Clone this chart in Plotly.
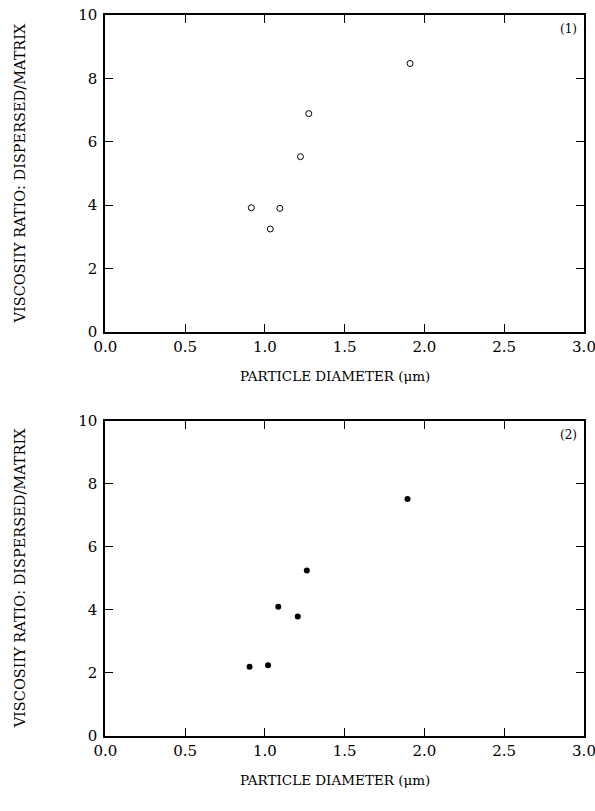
import plotly.graph_objects as go

# Panel (1): open circles
diam_1 = [0.915, 1.034, 1.094, 1.223, 1.275, 1.91]
ratio_1 = [3.92, 3.25, 3.90, 5.53, 6.89, 8.47]

# Panel (2): filled circles
diam_2 = [0.904, 1.02, 1.084, 1.206, 1.263, 1.894]
ratio_2 = [2.20, 2.24, 4.10, 3.79, 5.25, 7.52]

x_ticks = [0.0, 0.5, 1.0, 1.5, 2.0, 2.5, 3.0]
x_tick_text = ["0.0", "0.5", "1.0", "1.5", "2.0", "2.5", "3.0"]
y_ticks = [0, 2, 4, 6, 8, 10]
y_tick_text = ["0", "2", "4", "6", "8", "10"]

W, H = 595, 811
FONT = "DejaVu Serif"

fig = go.Figure()
fig.add_trace(go.Scatter(x=diam_1, y=ratio_1, mode="markers", xaxis="x", yaxis="y",
                         marker=dict(symbol="circle-open", size=6, color="black",
                                     line=dict(width=1, color="black")),
                         showlegend=False))
fig.add_trace(go.Scatter(x=diam_2, y=ratio_2, mode="markers", xaxis="x2", yaxis="y2",
                         marker=dict(symbol="circle", size=6, color="black"),
                         showlegend=False))

xd = [105.3 / W, 584 / W]
d1 = [1 - 332 / H, 1 - 15 / H]
d2 = [1 - 736 / H, 1 - 420.7 / H]

def xaxis(anchor):
    return dict(domain=xd, range=[0, 3], anchor=anchor, tickvals=x_ticks, ticktext=x_tick_text,
                ticks="inside", ticklen=8, tickwidth=1, tickcolor="black",
                showline=True, linewidth=2, linecolor="black", mirror="ticks",
                showgrid=False, zeroline=False, automargin=False,
                ticklabeloverflow="allow",
                tickfont=dict(family=FONT, size=15, color="black"))

def yaxis(anchor, dom):
    return dict(domain=dom, range=[0, 10], anchor=anchor, tickvals=y_ticks, ticktext=y_tick_text,
                ticks="inside", ticklen=8, tickwidth=1, tickcolor="black",
                showline=True, linewidth=2, linecolor="black", mirror="ticks",
                showgrid=False, zeroline=False, automargin=False,
                ticklabeloverflow="allow", ticklabelstandoff=3,
                tickfont=dict(family=FONT, size=15, color="black"))

ann = []
for dom, tag in [(d1, "(1)"), (d2, "(2)")]:
    top_px = (1 - dom[1]) * H
    bot_px = (1 - dom[0]) * H
    ann.append(dict(text="VISCOSIIY RATIO: DISPERSED/MATRIX", textangle=-90,
                    x=20 / W, y=(dom[0] + dom[1]) / 2, xref="paper", yref="paper",
                    xanchor="center", yanchor="middle", showarrow=False,
                    font=dict(family=FONT, size=14.5, color="black")))
    ann.append(dict(text="PARTICLE DIAMETER (μm)", x=335 / W, y=1 - (bot_px + 44) / H,
                    xref="paper", yref="paper", xanchor="center", yanchor="middle",
                    showarrow=False, font=dict(family=FONT, size=13.5, color="black")))
    ann.append(dict(text=tag, x=579 / W, y=1 - (top_px + 14) / H, xref="paper", yref="paper",
                    xanchor="right", yanchor="middle", showarrow=False,
                    font=dict(family=FONT, size=12, color="black")))

fig.update_layout(
    width=W, height=H, margin=dict(l=0, r=0, t=0, b=0, autoexpand=False),
    paper_bgcolor="white", plot_bgcolor="white",
    xaxis=xaxis("y"), yaxis=yaxis("x", d1),
    xaxis2=xaxis("y2"), yaxis2=yaxis("x2", d2),
    annotations=ann,
)

fig.write_html("out.html")
